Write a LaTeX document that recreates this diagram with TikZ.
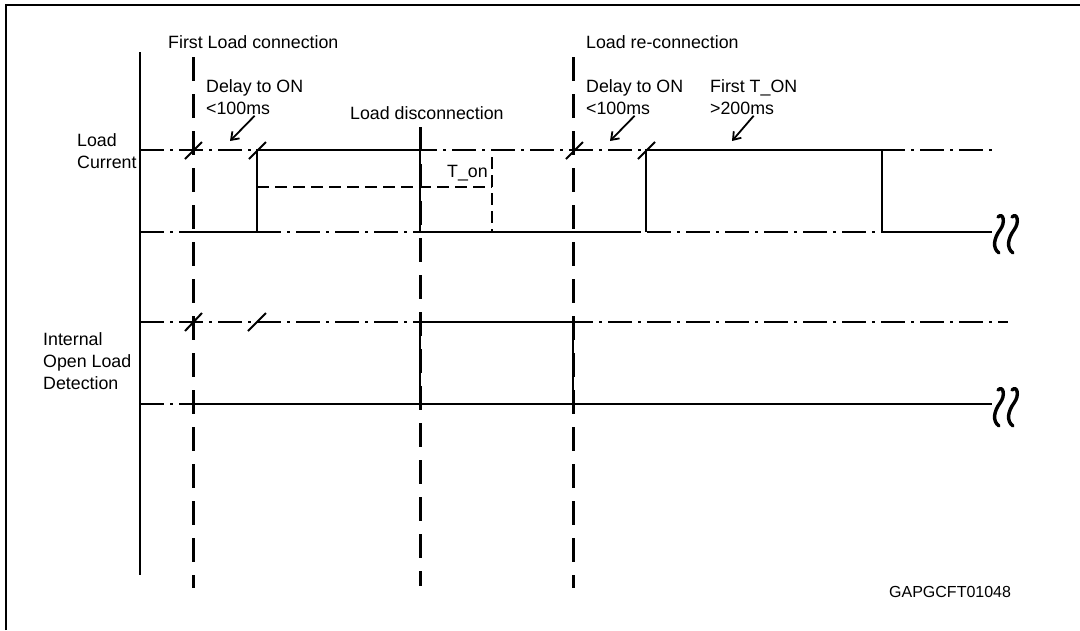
\documentclass[tikz,border=0pt]{standalone}
\usepackage{fontspec}
\setmainfont{Liberation Sans}
\usetikzlibrary{arrows.meta}
\tikzset{
  refline/.style={line width=1.4pt, dash pattern=on 24pt off 6pt on 3pt off 6pt},
  sigline/.style={line width=2.6pt},
  markline/.style={line width=3pt, dash pattern=on 24pt off 13pt},
  tonline/.style={line width=1.6pt, dash pattern=on 12pt off 6pt},
  slash/.style={line width=2pt},
  lbl/.style={inner sep=1pt, align=left, anchor=west, font=\fontsize{17.8}{22}\selectfont},
  pointer/.style={line width=1.8pt, -{Straight Barb[length=7pt,width=10pt,line width=1.8pt]}},
  breakmark/.pic={
    \draw[line width=3.4pt, line cap=round]
      (3,-17) .. controls (8,-22) and (11,-12) .. (5,-4)
      .. controls (-1,4) and (-3,14) .. (4,19);
    \draw[line width=3.4pt, line cap=round]
      (17,-17) .. controls (22,-22) and (25,-12) .. (19,-4)
      .. controls (13,4) and (11,14) .. (18,19);
  }
}
\begin{document}
\begin{tikzpicture}
    [x=1pt,y=-1pt]
    \useasboundingbox (0,0) rectangle (1080,630);
    %frame
    \draw[line width=2.4pt] (6,630)--(6,5)--(1080,5);
    %time axis
    \draw[line width=1.8pt] (140,52)--(140,575);
    %event markers
    \coordinate (m1t) at (193,57);
    \coordinate (m1b) at (193,588);
    \coordinate (m2t) at (420,127);
    \coordinate (m2b) at (420,586);
    \coordinate (m3t) at (573,57);
    \coordinate (m3b) at (573,588);
    \draw[markline] (m1t)--(m1b);
    \draw[markline] (m2t)--(m2b);
    \draw[markline] (m3t)--(m3b);
    %reference levels
    \draw[refline] (140,150)--(992,150);
    \draw[refline] (140,232)--(992,232);
    \draw[refline] (140,322)--(1008,322);
    \draw[refline] (140,404)--(992,404);
    %load current
    \draw[sigline] (193,232)--(257,232)--(257,150)--(420,150)--(420,232)--(638,232);
    \draw[sigline] (646,232)--(646,150)--(882,150)--(882,232)--(992,232);
    \draw[tonline] (257,187)--(492,187);
    \draw[tonline] (492,157)--(492,232);
    %internal open load detection
    \draw[sigline] (193,404)--(992,404);
    \draw[sigline] (420,404)--(420,322)--(573,322)--(573,404);
    %slashes
    \draw[slash] (185,159)--(202,142);
    \draw[slash] (249,159)--(266,142);
    \draw[slash] (566,159)--(583,142);
    \draw[slash] (638,159)--(655,142);
    \draw[slash] (185,331)--(202,313);
    \draw[slash] (248,331)--(266,313);
    %breaks
    \pic at (995,234) {breakmark};
    \pic at (995,407) {breakmark};
    %labels
    \node[lbl] (flc) at (167,42) {First Load connection};
    \node[lbl] (lrc) at (585,42) {Load re-connection};
    \node[lbl] (ldc) at (349,113) {Load disconnection};
    \node[lbl] (dly1) at (205,97) {Delay to ON\\<100ms};
    \node[lbl] (dly2) at (585,97) {Delay to ON\\<100ms};
    \node[lbl] (fton) at (709,97) {First T\_ON\\>200ms};
    \node[lbl] (lcur) at (76,151) {Load\\Current};
    \node[lbl] (iold) at (42,361) {Internal\\Open Load\\Detection};
    \node[lbl] (ton) at (446,173) {T\_on};
    \node[lbl, font=\fontsize{16}{19}\selectfont] (code) at (888,592) {GAPGCFT01048};
    %pointers
    \coordinate (dly1tip) at (230,141);
    \coordinate (dly2tip) at (610,141);
    \coordinate (ftontip) at (732,141);
    \draw[pointer] (dly1.south)--(dly1tip);
    \draw[pointer] (dly2.south)--(dly2tip);
    \draw[pointer] (fton.south)--(ftontip);
\end{tikzpicture}
\end{document}
